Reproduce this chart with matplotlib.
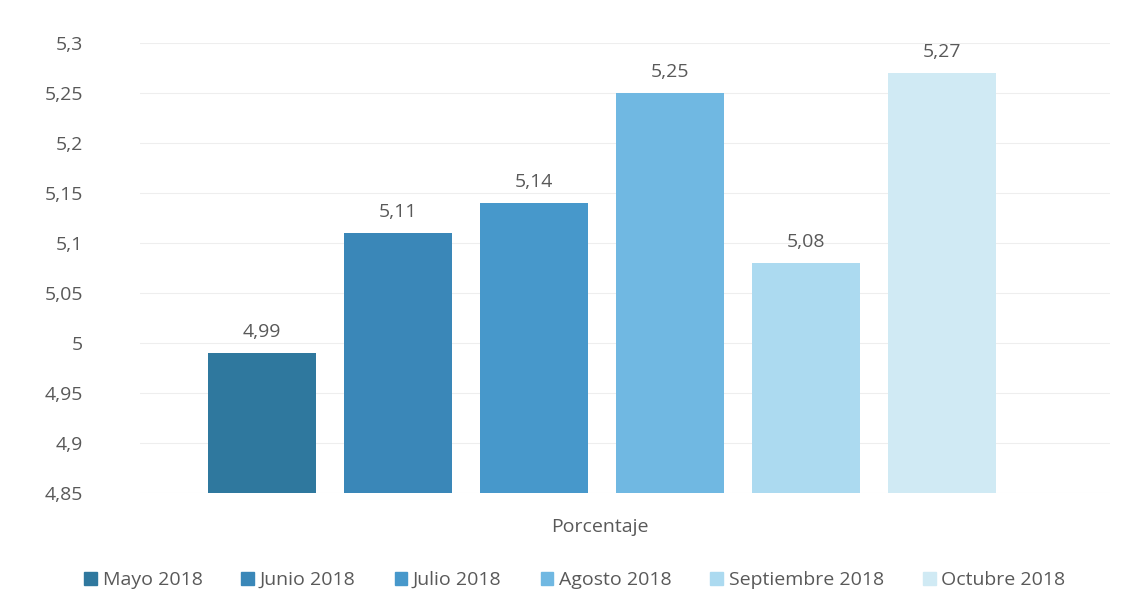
import matplotlib.pyplot as plt
import matplotlib.patches as mpatches

# Datos del grafico
meses = ['Mayo 2018', 'Junio 2018', 'Julio 2018', 'Agosto 2018',
         'Septiembre 2018', 'Octubre 2018']
valores = [4.99, 5.11, 5.14, 5.25, 5.08, 5.27]
etiquetas = ['4,99', '5,11', '5,14', '5,25', '5,08', '5,27']
ticks_y = [4.85, 4.9, 4.95, 5.0, 5.05, 5.1, 5.15, 5.2, 5.25, 5.3]
ticks_txt = ['4,85', '4,9', '4,95', '5', '5,05', '5,1', '5,15', '5,2', '5,25', '5,3']
colores = ['#2f789e', '#3a87b8', '#4798cb', '#70b8e2', '#acdaf0', '#d0eaf4']

plt.rcParams['font.family'] = ['Open Sans', 'DejaVu Sans']
gris = '#595959'

fig = plt.figure(figsize=(11.25, 6.13), dpi=100)
ax = fig.add_axes([0.1244, 0.1958, 0.8623, 0.7341])

pos = list(range(len(meses)))
ax.bar(pos, [v - 4.85 for v in valores], bottom=4.85,
       width=0.795, color=colores, zorder=2)

for p, v, t in zip(pos, valores, etiquetas):
    ax.text(p, v + 0.012, t, ha='center', va='bottom', fontsize=14, color=gris)

ax.set_ylim(4.85, 5.3)
ax.set_xlim(-0.9, 6.24)
ax.set_yticks(ticks_y)
ax.set_yticklabels(ticks_txt, fontsize=14, color=gris)
ax.set_xticks([])
ax.tick_params(axis='y', length=0, pad=41)
ax.yaxis.grid(True, color='#eeeeee', linewidth=0.8, zorder=0)
for s in ax.spines.values():
    s.set_visible(False)

fig.text(0.533, 0.14, 'Porcentaje', ha='center', va='center',
         fontsize=14, color=gris)

handles = [mpatches.Patch(color=c, label=m) for c, m in zip(colores, meses)]
fig.legend(handles=handles, loc='center', bbox_to_anchor=(0.511, 0.054),
           ncol=6, frameon=False, fontsize=14, labelcolor=gris,
           handlelength=0.65, handleheight=0.65, handletextpad=0.3,
           columnspacing=2.0)

fig.savefig('out.png', dpi=100, facecolor='white')
